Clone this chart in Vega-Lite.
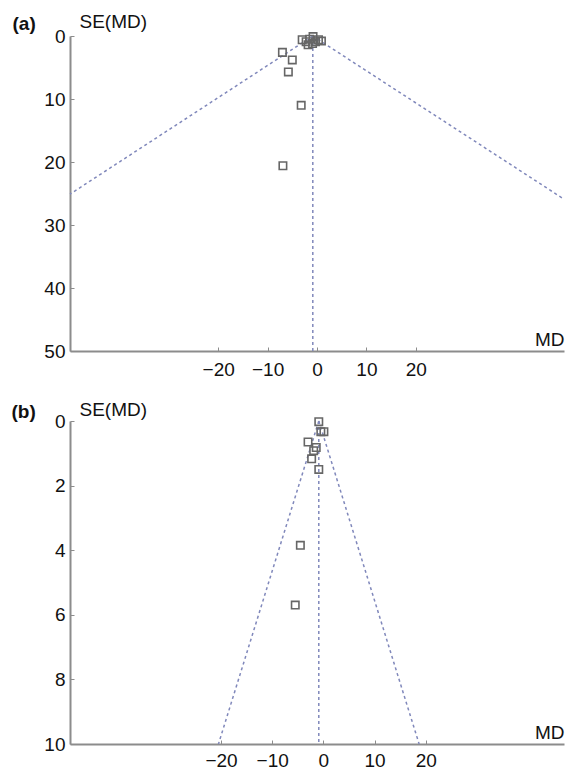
{
  "$schema": "https://vega.github.io/schema/vega-lite/v6.json",
  "background": "white",
  "padding": {"left": 11, "top": 12, "right": 11, "bottom": 0},
  "spacing": 21,
  "config": {
    "view": {"stroke": null},
    "font": "Liberation Sans",
    "axis": {
      "labelFont": "Liberation Sans", "labelFontSize": 19, "labelColor": "#111",
      "titleFont": "Liberation Sans", "titleFontSize": 19, "titleFontWeight": "normal", "titleColor": "#111",
      "domainColor": "#8c8c8c", "domainWidth": 2, "tickColor": "#8c8c8c", "tickWidth": 1, "grid": false
    }
  },
  "datasets": {
    "pointsA": [
      {"md": -3.0, "se": 0.6}, {"md": -2.2, "se": 0.9}, {"md": -1.5, "se": 0.5}, {"md": -0.8, "se": 0.1},
      {"md": -0.9, "se": 1.2}, {"md": -0.3, "se": 0.9}, {"md": 0.3, "se": 0.6}, {"md": 0.9, "se": 0.8},
      {"md": -1.8, "se": 1.4},
      {"md": -7.0, "se": 2.6}, {"md": -5.0, "se": 3.8}, {"md": -5.8, "se": 5.7}, {"md": -3.2, "se": 11.0}, {"md": -6.9, "se": 20.6}
    ],
    "linesA": [
      {"md": -0.85, "se": 0, "md2": -50, "se2": 25.1},
      {"md": -0.85, "se": 0, "md2": 50, "se2": 25.9},
      {"md": -0.85, "se": 0, "md2": -0.85, "se2": 50}
    ],
    "pointsB": [
      {"md": -0.9, "se": 0.02}, {"md": -0.5, "se": 0.33}, {"md": 0.1, "se": 0.33}, {"md": -3.0, "se": 0.65},
      {"md": -1.9, "se": 0.92}, {"md": -1.4, "se": 0.82}, {"md": -2.3, "se": 1.17}, {"md": -0.9, "se": 1.5},
      {"md": -4.5, "se": 3.85}, {"md": -5.5, "se": 5.7}
    ],
    "linesB": [
      {"md": -0.9, "se": 0, "md2": -20.5, "se2": 10},
      {"md": -0.9, "se": 0, "md2": 18.7, "se2": 10},
      {"md": -0.9, "se": 0, "md2": -0.9, "se2": 10}
    ]
  },
  "vconcat": [
    {
      "width": 494, "height": 315,
      "resolve": {"axis": {"y": "independent"}},
      "layer": [
        {
          "data": {"name": "linesA"},
          "mark": {"type": "rule", "color": "#8088bb", "strokeDash": [3, 3], "strokeWidth": 1.5},
          "encoding": {
            "x": {"field": "md", "type": "quantitative", "scale": {"domain": [-50, 50], "nice": false, "zero": false},
                  "axis": {"values": [-20, -10, 0, 10, 20], "title": "MD", "titleX": 494, "titleY": -12, "titleAlign": "right",
                           "titleBaseline": "middle", "titleAngle": 0, "tickSize": -4, "labelPadding": 13, "labelOverlap": false, "labelFlush": false}},
            "y": {"field": "se", "type": "quantitative", "scale": {"domain": [0, 50], "reverse": true, "nice": false, "zero": false},
                  "axis": {"orient": "left", "values": [0, 10, 20, 30, 40, 50], "title": "SE(MD)", "titleAngle": 0, "titleX": 9, "titleY": -15,
                           "titleAlign": "left", "titleBaseline": "middle", "tickSize": -4, "labelPadding": 9}},
            "x2": {"field": "md2"},
            "y2": {"field": "se2"}
          }
        },
        {
          "data": {"name": "pointsA"},
          "mark": {"type": "point", "shape": "square", "filled": false, "color": "#666666", "strokeWidth": 1.6, "size": 55, "opacity": 1},
          "encoding": {
            "x": {"field": "md", "type": "quantitative"},
            "y": {"field": "se", "type": "quantitative",
                  "axis": {"orient": "left", "domain": false, "ticks": false, "labels": false, "title": "(a)", "titleFontWeight": "bold",
                           "titleAngle": 0, "titleX": -58, "titleY": -13, "titleAlign": "left", "titleBaseline": "middle"}}
          }
        }
      ]
    },
    {
      "width": 494, "height": 323,
      "resolve": {"axis": {"y": "independent"}},
      "layer": [
        {
          "data": {"name": "linesB"},
          "mark": {"type": "rule", "color": "#8088bb", "strokeDash": [3, 3], "strokeWidth": 1.5},
          "encoding": {
            "x": {"field": "md", "type": "quantitative", "scale": {"domain": [-49.5, 47], "nice": false, "zero": false},
                  "axis": {"values": [-20, -10, 0, 10, 20], "title": "MD", "titleX": 494, "titleY": -12, "titleAlign": "right",
                           "titleBaseline": "middle", "titleAngle": 0, "tickSize": -4, "labelPadding": 11, "labelOverlap": false, "labelFlush": false}},
            "y": {"field": "se", "type": "quantitative", "scale": {"domain": [0, 10], "reverse": true, "nice": false, "zero": false},
                  "axis": {"orient": "left", "values": [0, 2, 4, 6, 8, 10], "title": "SE(MD)", "titleAngle": 0, "titleX": 9, "titleY": -12,
                           "titleAlign": "left", "titleBaseline": "middle", "tickSize": -4, "labelPadding": 9}},
            "x2": {"field": "md2"},
            "y2": {"field": "se2"}
          }
        },
        {
          "data": {"name": "pointsB"},
          "mark": {"type": "point", "shape": "square", "filled": false, "color": "#666666", "strokeWidth": 1.6, "size": 55, "opacity": 1},
          "encoding": {
            "x": {"field": "md", "type": "quantitative"},
            "y": {"field": "se", "type": "quantitative",
                  "axis": {"orient": "left", "domain": false, "ticks": false, "labels": false, "title": "(b)", "titleFontWeight": "bold",
                           "titleAngle": 0, "titleX": -59, "titleY": -10, "titleAlign": "left", "titleBaseline": "middle"}}
          }
        }
      ]
    }
  ]
}
